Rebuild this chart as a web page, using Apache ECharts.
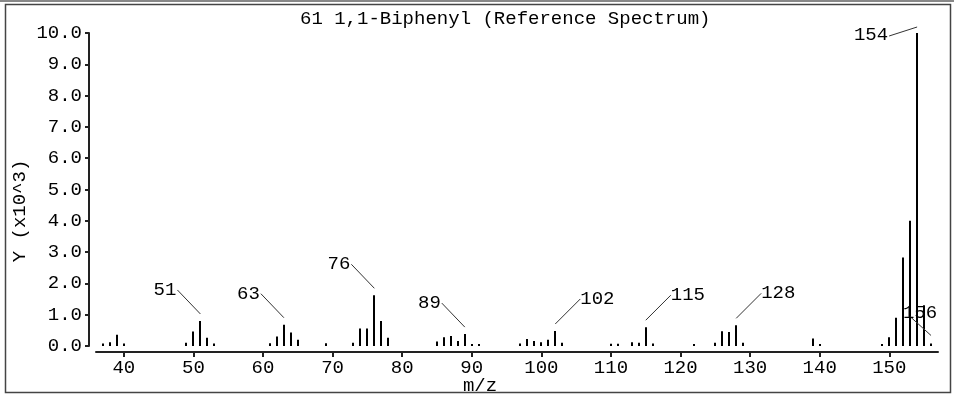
<!DOCTYPE html>
<html>
<head>
<meta charset="utf-8">
<script src="https://cdn.jsdelivr.net/npm/echarts@6/dist/echarts.min.js"></script>
<style>
html,body{margin:0;padding:0;background:#fff;}
#chart{width:954px;height:396px;}
</style>
</head>
<body>
<div id="chart"></div>
<script>
// ---- data ----
const titleText = '61 1,1-Biphenyl (Reference Spectrum)';
const xName = 'm/z';
const yName = 'Y (x10^3)';
const mz = [37,38,39,40, 49,50,51,52,53, 61,62,63,64,65, 69,
  73,74,75,76,77,78, 85,86,87,88,89,90,91, 97,98,99,100,101,102,103,
  110,111, 113,114,115,116, 122, 125,126,127,128,129, 139,140,
  149,150,151,152,153,154,155,156];
const intensity = [0.08,0.12,0.36,0.08, 0.1,0.46,0.8,0.26,0.08, 0.09,0.3,0.68,0.43,0.2, 0.09,
  0.1,0.56,0.56,1.62,0.8,0.26, 0.14,0.28,0.32,0.16,0.38,0.06,0.06, 0.08,0.22,0.16,0.12,0.2,0.48,0.1,
  0.07,0.07, 0.12,0.1,0.6,0.08, 0.06, 0.1,0.47,0.45,0.66,0.1, 0.24,0.06,
  0.06,0.28,0.9,2.83,4.0,10.0,1.3,0.08];
const labelPeaks = [51,63,76,89,102,115,128,154,156];
const xTicks = [40,50,60,70,80,90,100,110,120,130,140,150];

// ---- chart ----
const FONT = '"Liberation Mono", "DejaVu Sans Mono", monospace';
const FS = 19;
const rightLabels = {102:1,115:1,128:1};

const peakData = mz.map((m,i)=>[m,intensity[i]]);
const labelData = labelPeaks.map(m=>[m, intensity[mz.indexOf(m)]]);

const chart = echarts.init(document.getElementById('chart'));
chart.setOption({
  animation:false,
  backgroundColor:'#fff',
  title:{text:titleText,left:295,top:4,textStyle:{fontFamily:FONT,fontSize:FS,fontWeight:'normal',color:'#000'}},
  grid:{left:96,right:16,top:33,bottom:50},
  xAxis:{type:'value',min:36,max:157,offset:6,
    axisLine:{onZero:false,lineStyle:{color:'#222',width:2}},
    axisTick:{show:true,customValues:xTicks,length:5,lineStyle:{color:'#222',width:2}},
    axisLabel:{customValues:xTicks,margin:6,fontFamily:FONT,fontSize:FS,color:'#000'},
    splitLine:{show:false}},
  yAxis:{type:'value',min:0,max:10,interval:1,offset:7,
    axisLine:{show:true,onZero:false,lineStyle:{color:'#222',width:2}},
    axisTick:{show:true,length:4,lineStyle:{color:'#222',width:2}},
    axisLabel:{margin:7,fontFamily:FONT,fontSize:FS,color:'#000',formatter:v=>v.toFixed(1)},
    splitLine:{show:false}},
  graphic:[
    {type:'rect',shape:{x:5.5,y:4.5,width:945,height:388},style:{fill:null,stroke:'#444',lineWidth:1.5},silent:true},
    {type:'line',shape:{x1:0,y1:1,x2:954,y2:1},style:{stroke:'#888',lineWidth:2}},
    {type:'text',x:20,y:211,rotation:Math.PI/2,style:{text:yName,fontFamily:FONT,fontSize:FS,fill:'#000',align:'center',verticalAlign:'middle'}},
    {type:'text',x:480,y:386,style:{text:xName,fontFamily:FONT,fontSize:FS,fill:'#000',align:'center',verticalAlign:'middle'}}
  ],
  series:[
    {type:'custom',data:peakData,clip:false,
      renderItem:(params,api)=>{
        const x=api.value(0),y=api.value(1);
        const p0=api.coord([x,0]),p1=api.coord([x,y]);
        const px=Math.round(p0[0]);
        return {type:'line',shape:{x1:px,y1:p0[1],x2:px,y2:p1[1]},style:{stroke:'#000',lineWidth:2}};
      }},
    {type:'custom',data:labelData,clip:false,
      renderItem:(params,api)=>{
        const m=api.value(0),y=api.value(1);
        const p=api.coord([m,y]);
        const px=p[0],py=p[1];
        let line,text;
        const ts={fontFamily:FONT,fontSize:FS,fill:'#000',verticalAlign:'middle'};
        if(m===154){
          line={x1:px,y1:py-6,x2:px-28,y2:py+3};
          text={x:px-29,y:py+2,align:'right'};
        }else if(m===156){
          line={x1:px,y1:py-8,x2:px-21,y2:py-27};
          text={x:px-11,y:py-31,align:'center'};
        }else if(rightLabels[m]){
          line={x1:px,y1:py-7,x2:px+25,y2:py-32};
          text={x:px+25,y:py-32,align:'left'};
        }else{
          line={x1:px,y1:py-7,x2:px-23,y2:py-31};
          text={x:px-24,y:py-31,align:'right'};
        }
        return {type:'group',children:[
          {type:'line',shape:line,style:{stroke:'#333',lineWidth:1}},
          {type:'text',x:text.x,y:text.y,style:Object.assign({text:String(m),align:text.align},ts)}
        ]};
      }}
  ]
});
</script>
</body>
</html>
